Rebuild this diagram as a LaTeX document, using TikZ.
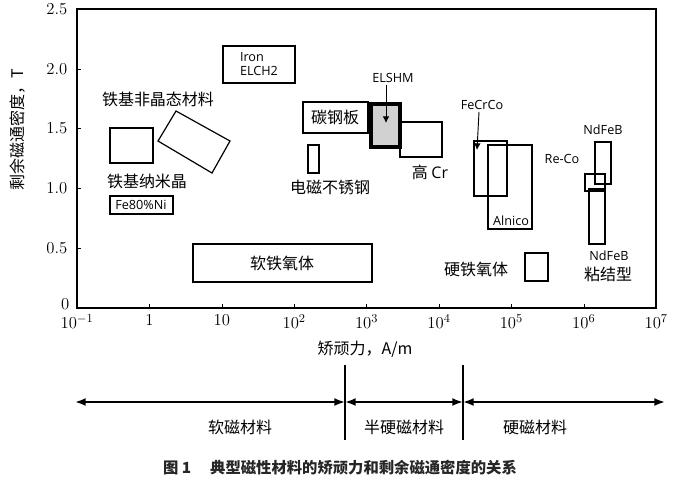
\documentclass[tikz,border=0pt]{standalone}
\usepackage{fontspec}
\newfontfamily\cjk{Noto Sans CJK SC}
\newfontfamily\lat{Open Sans}
\usetikzlibrary{arrows.meta}
\begin{document}
\begin{tikzpicture}[x=0.75pt,y=-0.75pt,
  bx/.style={draw,line width=0.9pt},
  cl/.style={font=\cjk\fontsize{12}{13}\selectfont},
  ll/.style={font=\lat\fontsize{9.5}{10.5}\selectfont,inner sep=0pt,align=left},
  tk/.style={font=\fontsize{12.5}{13}\selectfont},
  ar/.style={-{Latex[length=5pt,width=5pt]},line width=0.7pt}]
\useasboundingbox (0,0) rectangle (676,490);
% frame
\draw[line width=1pt] (77,9) rectangle (656,308);
% x ticks
\foreach \i/\t in {0/10$^{-1}$,1/1,2/10,3/10$^{2}$,4/10$^{3}$,5/10$^{4}$,6/10$^{5}$,7/10$^{6}$,8/10$^{7}$}{
  \draw (77+\i*72.4,308) -- ++(0,-4);
  \node[tk,anchor=north] (xt\i) at (77+\i*72.4,310) {\t};}
\foreach \v/\t in {1/0.5,2/1.0,3/1.5,4/2.0,5/2.5}{
  \draw (77,308-\v*59.8) -- ++(4,0);
  \node[tk,anchor=east] (yt\v) at (72,308-\v*59.8) {\t};}
\node[tk,anchor=east,inner sep=1pt] (yt0) at (71,304) {0};
\node[cl,rotate=90] (ylab) at (18,130) {剩余磁通密度，T};
\node[cl] (xlab) at (365,349) {矫顽力，A/m};
% boxes
\draw[bx] (223,46) rectangle (295,83);
\node[ll] (iron) at (259,64) {Iron\\ELCH2};
\node[cl] (amor) at (158,99) {铁基非晶态材料};
\draw[bx] (110,128) rectangle (153,163);
\draw[bx] (176,111) -- (230,141) -- (212,173) -- (158,141) -- cycle;
\node[cl] (nano) at (147,181) {铁基纳米晶};
\draw[bx] (110,196) rectangle (173,214);
\node[ll] (fe80) at (141,205) {Fe80\%Ni};
\draw[bx] (193,244) rectangle (372,282);
\node[cl] (soft) at (282,263) {软铁氧体};
\draw[bx] (303,102) rectangle (368,133);
\node[cl] (steel) at (335,117) {碳钢板};
\draw[bx] (308,145) rectangle (319,173);
\node[cl] (emss) at (330,187) {电磁不锈钢};
\draw[line width=2.6pt,fill=black!18] (371,104) rectangle (400,147);
\node[ll] (elshm) at (393,78) {ELSHM};
\draw[bx] (400,122) rectangle (442,157);
\node[cl] (gcr) at (430,172) {高 \lat Cr};
\draw[bx] (474,141) rectangle (507,196);
\node[ll] (fecrco) at (482,105) {FeCrCo};
\draw[bx] (488,145) rectangle (532,229);
\node[ll] (alnico) at (511,221) {Alnico};
\draw[bx] (595,142) rectangle (611,184);
\node[ll] (ndfeb1) at (603,130) {NdFeB};
\draw[bx] (585,174) rectangle (605,191);
\node[ll] (reco) at (562,159) {Re-Co};
\draw[bx] (589,189) rectangle (605,244);
\node[ll] (ndfeb2) at (609,256) {NdFeB};
\node[cl] (bond) at (608,274) {粘结型};
\draw[bx] (525,253) rectangle (548,281);
\node[cl] (hard) at (476,269) {硬铁氧体};
\coordinate (e1) at (386,123);
\coordinate (f1) at (477,150);
\draw[ar] (elshm.south) ++(-7,2) -- (e1);
\draw[ar] (fecrco.south) ++(-3,2) -- (f1);
% bottom scale
\coordinate (L) at (75,402); \coordinate (M1) at (345,402);
\coordinate (M2) at (463,402); \coordinate (R) at (665,402);
\draw[line width=1.8pt] (345,365) -- (345,440);
\draw[line width=1.8pt] (463,365) -- (463,440);
\tikzset{dar/.style={{Latex[length=8pt,width=6pt]}-{Latex[length=8pt,width=6pt]},line width=1.5pt}}
\draw[dar] (L) -- (M1);
\draw[dar] (M1) -- (M2);
\draw[dar] (M2) -- (R);
\node[cl] (s1) at (240,427) {软磁材料};
\node[cl] (s2) at (404,427) {半硬磁材料};
\node[cl] (s3) at (535,427) {硬磁材料};
\node[font=\cjk\bfseries\fontsize{11.5}{13}\selectfont,text=black!85] (cap) at (340,468) {图 1\quad\ 典型磁性材料的矫顽力和剩余磁通密度的关系};
\end{tikzpicture}
\end{document}
